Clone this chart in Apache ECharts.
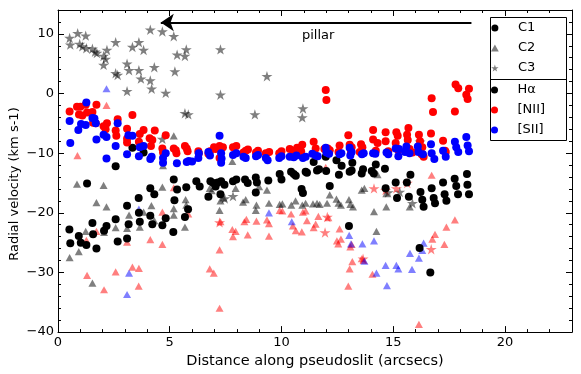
<!DOCTYPE html>
<html>
<head>
<meta charset="utf-8">
<script src="https://cdn.jsdelivr.net/npm/echarts@6/dist/echarts.min.js"></script>
<style>
  html, body { margin: 0; padding: 0; background: #fff; }
  #chart { width: 581px; height: 374px; }
</style>
</head>
<body>
<div id="chart"></div>
<script>
// C1 component (circles)
const haC1 = [[0.51,-22.8],[0.55,-25.1],[0.93,-23.9],[1.02,-25.0],[1.27,-25.4],[1.30,-15.1],[1.54,-21.7],[1.57,-23.6],[1.72,-26.0],[2.06,-23.0],[2.17,-22.2],[2.58,-12.2],[2.58,-21.1],[2.67,-24.8],[3.09,-18.8],[3.09,-24.3],[3.16,-21.9],[3.33,-9.1],[3.61,-17.5],[3.62,-20.0],[3.66,-21.5],[3.83,-9.9],[4.13,-15.9],[4.13,-20.5],[4.22,-21.9],[4.31,-16.9],[4.67,-22.1],[4.82,-20.9],[5.16,-23.2],[5.18,-14.4],[5.21,-17.9],[5.33,-16.1],[5.68,-20.7],[5.74,-15.7],[5.82,-19.4],[6.19,-14.7],[6.34,-15.6],[6.73,-17.3],[6.82,-14.7],[6.95,-15.0],[7.05,-15.6],[7.15,-14.9],[7.27,-16.9],[7.3,-14.7],[7.45,-15.3],[7.83,-14.7],[7.98,-14.4],[8.37,-14.4],[8.49,-15.0],[8.85,-14.1],[8.9,-14.9],[8.85,-16.6],[9.41,-14.6],[9.92,-13.5],[10.0,-14.4],[10.43,-13.1],[10.55,-13.5],[10.64,-13.8],[10.9,-16.0],[10.96,-16.7],[11.08,-13.1],[11.14,-13.3],[11.44,-11.5],[11.59,-12.9],[11.68,-12.7],[11.98,-10.6],[12.0,-13.0],[12.16,-15.5],[12.46,-11.2],[12.57,-13.6],[12.69,-12.1],[13.02,-22.2],[13.05,-13.1],[13.14,-12.9],[13.17,-11.6],[13.59,-13.4],[13.65,-12.7],[14.04,-13.0],[14.13,-13.4],[14.22,-11.9],[14.63,-12.6],[14.66,-15.9],[15.11,-14.9],[15.17,-17.5],[15.61,-14.9],[15.7,-17.3],[15.77,-13.6],[16.18,-25.9],[16.22,-16.5],[16.3,-17.8],[16.36,-19.0],[16.66,-30.0],[16.72,-15.9],[16.81,-17.5],[16.87,-18.4],[17.23,-14.9],[17.3,-16.9],[17.38,-18.0],[17.75,-14.3],[17.82,-15.5],[17.9,-16.9],[18.3,-13.5],[18.32,-15.3],[18.39,-16.9]]
const niiC1 = [[0.52,-3.0],[0.85,-2.2],[1.0,-2.2],[0.94,-3.5],[1.09,-3.7],[1.24,-1.9],[1.3,-3.2],[1.54,-3.1],[1.57,-4.9],[1.69,-5.0],[1.72,-1.9],[2.04,-5.5],[2.13,-6.0],[2.19,-5.0],[2.58,-6.2],[2.61,-7.1],[2.67,-4.3],[3.09,-5.9],[3.09,-7.6],[3.09,-8.2],[3.33,-3.6],[3.66,-6.8],[3.62,-8.1],[3.83,-6.1],[4.1,-7.5],[4.16,-8.8],[4.22,-7.8],[4.33,-6.2],[4.67,-9.2],[4.7,-9.9],[4.82,-7.0],[5.18,-9.2],[5.27,-9.5],[5.3,-10.0],[5.68,-8.8],[5.76,-9.2],[5.8,-9.7],[6.28,-9.7],[6.3,-10.0],[6.73,-10.1],[6.8,-9.7],[6.98,-9.0],[7.05,-9.3],[7.23,-8.8],[7.3,-9.2],[7.38,-9.0],[7.23,-10.8],[7.83,-9.0],[7.98,-8.8],[8.3,-9.9],[8.4,-9.6],[8.5,-9.4],[8.86,-9.9],[8.95,-9.6],[9.3,-10.0],[9.45,-9.8],[9.9,-10.0],[10.0,-9.7],[10.37,-9.3],[10.52,-9.6],[10.7,-9.1],[10.93,-8.6],[10.88,-9.7],[11.44,-8.1],[11.53,-9.2],[11.92,-9.3],[12.07,-9.2],[12.16,-9.5],[11.98,0.6],[12.01,-1.1],[12.6,-8.7],[12.55,-9.8],[12.99,-7.0],[13.05,-8.6],[13.14,-9.0],[13.11,-9.8],[13.56,-8.5],[13.62,-9.0],[13.5,-9.8],[14.1,-6.1],[14.1,-7.7],[14.3,-8.3],[14.22,-9.6],[14.66,-6.5],[14.66,-8.0],[14.78,-9.7],[15.14,-6.5],[15.2,-7.1],[15.11,-8.3],[15.23,-9.5],[15.68,-5.8],[15.62,-6.9],[15.65,-7.8],[15.73,-9.3],[15.86,-9.9],[16.15,-6.9],[16.2,-8.0],[16.3,-9.0],[16.27,-10.2],[16.36,-10.6],[16.69,-6.7],[16.72,-0.8],[16.78,-3.1],[17.23,-7.9],[17.32,-9.6],[17.35,-9.8],[17.76,-3.0],[17.79,1.5],[17.91,0.9],[18.39,0.8],[18.27,-0.2],[18.33,-0.9]]
const siiC1 = [[0.52,-4.6],[0.55,-8.3],[0.91,-6.1],[1.03,-5.1],[1.24,-5.3],[1.27,-1.5],[1.54,-4.1],[1.63,-4.2],[1.69,-5.0],[1.72,-7.7],[2.04,-6.9],[2.17,-7.3],[2.17,-10.9],[2.58,-8.8],[2.67,-5.0],[3.09,-10.2],[3.15,-7.0],[3.33,-7.1],[3.62,-10.5],[3.66,-9.0],[3.83,-8.8],[4.19,-10.6],[4.13,-11.0],[4.7,-10.8],[4.7,-11.6],[4.82,-10.0],[5.32,-11.7],[5.76,-11.5],[5.85,-11.3],[6.0,-11.4],[6.28,-10.8],[6.3,-10.0],[6.73,-9.8],[6.8,-10.4],[7.23,-7.1],[7.3,-10.0],[7.32,-10.9],[7.3,-11.6],[7.83,-10.3],[7.98,-10.0],[8.3,-10.6],[8.4,-10.8],[8.86,-10.5],[8.95,-10.3],[9.3,-10.8],[9.38,-11.2],[9.9,-10.8],[10.0,-10.5],[10.37,-10.6],[10.55,-10.7],[10.67,-10.4],[10.96,-10.8],[11.08,-10.6],[11.38,-10.1],[11.53,-10.4],[11.62,-10.5],[11.98,-9.1],[12.01,-9.9],[12.13,-10.1],[12.6,-10.2],[12.68,-10.0],[13.05,-9.1],[13.14,-9.8],[13.08,-10.4],[13.6,-10.2],[13.68,-10.0],[14.1,-10.0],[14.2,-10.1],[14.7,-9.9],[14.78,-10.2],[15.11,-9.2],[15.26,-9.3],[15.23,-10.5],[15.59,-8.9],[15.53,-9.8],[15.73,-10.0],[16.1,-8.9],[16.13,-9.8],[16.33,-10.2],[16.69,-8.5],[16.72,-10.0],[16.84,-11.0],[17.23,-9.6],[17.35,-10.6],[17.76,-8.1],[17.82,-9.0],[17.91,-9.8],[18.27,-7.3],[18.33,-8.7],[18.39,-9.7]]

// C2 component (triangles)
const haC2 = [[0.52,-27.5],[0.85,-15.2],[0.93,-26.5],[1.24,-23.1],[1.54,-31.8],[1.72,-18.3],[2.04,-15.4],[2.06,-23.3],[2.17,-19.0],[2.58,-22.5],[3.09,-22.6],[3.18,-20.4],[3.66,-22.4],[3.83,-19.9],[4.18,-18.8],[4.31,-21.3],[4.67,-15.7],[4.7,-12.1],[5.18,-7.1],[5.18,-19.3],[5.18,-20.4],[5.71,-17.8],[5.74,-18.7],[5.68,-22.4],[6.79,-15.9],[6.88,-16.3],[7.23,-19.6],[7.27,-18.0],[7.4,-17.5],[7.8,-11.4],[7.95,-15.9],[8.28,-18.2],[8.4,-17.8],[8.88,-18.7],[8.85,-19.6],[9.0,-15.6],[9.35,-16.2],[9.44,-18.4],[9.92,-18.6],[10.04,-18.5],[10.44,-18.7],[10.63,-18.0],[10.93,-18.7],[11.08,-18.4],[11.41,-18.5],[11.59,-18.4],[11.71,-18.6],[12.04,-18.4],[12.16,-17.0],[12.46,-17.7],[12.55,-18.4],[12.66,-18.7],[13.02,-17.8],[13.08,-18.6],[13.2,-19.0],[13.59,-16.2],[13.71,-15.9],[14.14,-19.8],[14.25,-23.1],[14.3,-13.6],[14.69,-16.8],[14.69,-19.0],[15.74,-19.0]]
const niiC2 = [[0.87,-10.4],[1.27,-24.6],[1.3,-30.5],[1.72,-23.1],[2.06,-32.9],[2.17,-2.0],[2.58,-29.9],[3.09,-24.9],[3.33,-29.1],[3.62,-29.3],[3.61,-32.3],[4.13,-24.5],[4.67,-25.3],[4.67,-19.9],[5.18,-15.8],[5.83,-20.2],[6.79,-29.4],[6.97,-30.1],[7.23,-26.2],[7.23,-36.0],[7.27,-21.5],[7.8,-22.8],[7.95,-23.1],[7.83,-24.0],[8.34,-21.5],[8.43,-21.1],[8.49,-23.7],[8.88,-21.4],[9.35,-21.2],[9.44,-21.8],[9.44,-23.9],[9.92,-19.6],[10.04,-19.7],[10.43,-20.2],[10.51,-22.2],[10.64,-23.0],[10.91,-23.2],[10.96,-19.9],[11.08,-19.7],[11.14,-21.3],[11.44,-22.5],[11.53,-21.9],[11.65,-20.6],[11.98,-12.4],[12.1,-20.8],[12.6,-22.7],[12.48,-24.7],[12.54,-25.2],[12.66,-24.4],[13.08,-25.7],[13.14,-25.3],[13.05,-29.4],[12.99,-32.3],[13.17,-28.2],[13.59,-27.7],[13.68,-28.0],[14.07,-30.3],[16.15,-38.7],[16.72,-13.7],[16.75,-24.4],[16.87,-23.6],[17.29,-25.3],[17.38,-22.4],[17.76,-21.2]]
const siiC2 = [[2.17,0.8],[3.18,-30.1],[3.09,-33.7],[3.62,-19.4],[9.44,-20.0],[10.46,-21.5],[13.03,-23.8],[13.11,-25.2],[13.62,-25.2],[13.71,-28.1],[14.14,-24.7],[14.25,-30.1],[14.66,-28.8],[14.72,-32.2],[15.14,-28.8],[15.23,-29.4],[15.84,-29.5],[15.75,-26.8],[16.15,-27.6],[16.3,-26.3],[16.36,-25.1]]

// C3 component (stars)
const haC3 = [[0.52,9.3],[0.55,8.2],[0.88,10.1],[0.97,8.3],[1.09,7.9],[1.24,9.7],[1.27,7.6],[1.54,7.5],[1.66,7.0],[1.74,6.8],[2.04,6.3],[2.13,5.8],[2.19,7.3],[2.04,4.8],[2.58,8.6],[2.58,3.4],[2.67,3.1],[3.09,5.0],[3.18,3.9],[3.09,0.4],[3.33,7.8],[3.62,8.6],[3.62,3.9],[3.71,2.5],[3.83,7.3],[4.13,10.7],[4.13,2.2],[4.19,0.8],[4.31,4.4],[4.67,10.4],[4.82,0.1],[5.18,9.6],[5.23,3.7],[5.33,6.5],[5.68,6.3],[5.74,7.4],[5.68,-3.3],[5.83,-3.5],[7.27,7.4],[7.27,-0.2],[8.81,-3.5],[9.35,2.9],[10.96,-2.5],[10.93,-4.0],[4.67,-7.6],[7.46,-17.6],[7.83,-17.2],[14.77,-16.6],[15.29,-16.5],[15.86,-18.4],[16.2,-8.1]]
const niiC3 = [[7.23,-21.6],[11.95,-23.3],[12.05,-20.7],[14.14,-15.9],[14.66,-16.2],[15.14,-15.9],[15.63,-15.0],[16.7,-26.1],[13.65,-27.7]]

// pillar arrow, [x, y] in data units
const arrowFrom = [18.5, 11.9]
const arrowTo = [4.6, 11.9]

const starPath = 'path://M50,0 L61,35 L98,35 L68,57 L79,91 L50,70 L21,91 L32,57 L2,35 L39,35 Z'
const trianglePath = 'path://M5,0 L10,9 L0,9 Z'
const fontFamily = 'DejaVu Sans'

var myChart = echarts.init(document.getElementById('chart'), null, { renderer: 'canvas' })

function scatter(name, data, symbol, size, color, opacity){
  return {
    name: name,
    type: 'scatter',
    silent: true,
    data: data,
    symbol: symbol,
    symbolSize: size,
    symbolKeepAspect: true,
    itemStyle: { color: color, opacity: opacity }
  }
}

const xBase = { type: 'value', min: 0, max: 23, splitLine: { show: false }, offset: 0 }
const yBase = { type: 'value', min: -40, max: 14, splitLine: { show: false }, offset: 0 }
const frameLine = { show: true, onZero: false, lineStyle: { color: '#000', width: 1 } }
const noLine = { show: false, onZero: false }
const legendText = { fontFamily, fontSize: 13, lineHeight: 20, color: '#000' }

const option = {
  animation: false,
  backgroundColor: '#fff',
  grid: { left: 58, right: 9, top: 10, bottom: 41 },
  xAxis: [
    { ...xBase, position: 'bottom', interval: 5,
      name: 'Distance along pseudoslit (arcsecs)', nameLocation: 'middle', nameGap: 18,
      nameTextStyle: { fontFamily, fontSize: 14.5, color: '#000' },
      axisLine: frameLine,
      axisTick: { inside: true, length: 6, lineStyle: { color: '#000' } },
      axisLabel: { fontFamily, fontSize: 13, color: '#000', margin: 4, showMaxLabel: false } },
    { ...xBase, position: 'bottom', interval: 1,
      axisLine: noLine, axisLabel: { show: false },
      axisTick: { inside: true, length: 3, lineStyle: { color: '#000' } } },
    { ...xBase, position: 'top', interval: 5,
      axisLine: frameLine, axisLabel: { show: false },
      axisTick: { inside: true, length: 6, lineStyle: { color: '#000' } } },
    { ...xBase, position: 'top', interval: 1,
      axisLine: noLine, axisLabel: { show: false },
      axisTick: { inside: true, length: 3, lineStyle: { color: '#000' } } }
  ],
  yAxis: [
    { ...yBase, position: 'left', interval: 10,
      axisLine: frameLine,
      axisTick: { inside: true, length: 6, lineStyle: { color: '#000' } },
      axisLabel: { fontFamily, fontSize: 13, color: '#000', margin: 4, showMaxLabel: false,
        formatter: v => String(v).replace('-', '\u2212') } },
    { ...yBase, position: 'left', interval: 2,
      axisLine: noLine, axisLabel: { show: false },
      axisTick: { inside: true, length: 3, lineStyle: { color: '#000' } } },
    { ...yBase, position: 'right', interval: 10,
      axisLine: frameLine, axisLabel: { show: false },
      axisTick: { inside: true, length: 6, lineStyle: { color: '#000' } } },
    { ...yBase, position: 'right', interval: 2,
      axisLine: noLine, axisLabel: { show: false },
      axisTick: { inside: true, length: 3, lineStyle: { color: '#000' } } }
  ],
  legend: [
    { data: ['C1', 'C2', 'C3'], orient: 'vertical', left: 491, top: 18, padding: 0,
      itemWidth: 36, itemHeight: 7, itemGap: 0, selectedMode: false, z: 10,
      textStyle: legendText },
    { data: ['Hα', '[NII]', '[SII]'], orient: 'vertical', left: 491, top: 80, padding: 0,
      itemWidth: 36, itemHeight: 7, itemGap: 0, selectedMode: false, z: 10,
      textStyle: legendText }
  ],
  graphic: [
    { type: 'rect', shape: { x: 490.5, y: 17.5, width: 76, height: 123 },
      style: { fill: '#fff', stroke: '#000', lineWidth: 1 }, z: 3 },
    { type: 'line', shape: { x1: 490.5, y1: 79.5, x2: 566.5, y2: 79.5 },
      style: { stroke: '#000', lineWidth: 1 }, z: 3 },
    { type: 'text', left: 302, top: 29,
      style: { text: 'pillar', fontFamily, fontSize: 13, fill: '#000' } },
    { type: 'text', x: 15, y: 184, rotation: Math.PI / 2,
      style: { text: 'Radial velocity (km s-1)', fontFamily, fontSize: 13, fill: '#000',
        align: 'center', verticalAlign: 'middle' } }
  ],
  series: [
    scatter('C3', haC3, starPath, 11, '#000', 0.5),
    scatter('[NII] C3', niiC3, starPath, 11, '#f00', 0.5),
    scatter('C2', haC2, trianglePath, 8, '#000', 0.5),
    scatter('[NII] C2', niiC2, trianglePath, 8, '#f00', 0.5),
    scatter('[SII] C2', siiC2, trianglePath, 8, '#00f', 0.5),
    scatter('C1', [], 'circle', 7, '#000', 1),
    scatter('Hα', haC1, 'circle', 8, '#000', 1),
    scatter('[NII]', niiC1, 'circle', 8, '#f00', 1),
    scatter('[SII]', siiC1, 'circle', 8, '#00f', 1),
    {
      name: 'pillar',
      type: 'scatter',
      data: [],
      silent: true,
      markLine: {
        silent: true,
        symbol: ['none', 'arrow'],
        symbolSize: [13, 13],
        label: { show: false },
        lineStyle: { color: '#000', width: 2, type: 'solid' },
        data: [[{ coord: arrowFrom }, { coord: arrowTo }]]
      }
    }
  ]
}

myChart.setOption(option)
</script>
</body>
</html>
